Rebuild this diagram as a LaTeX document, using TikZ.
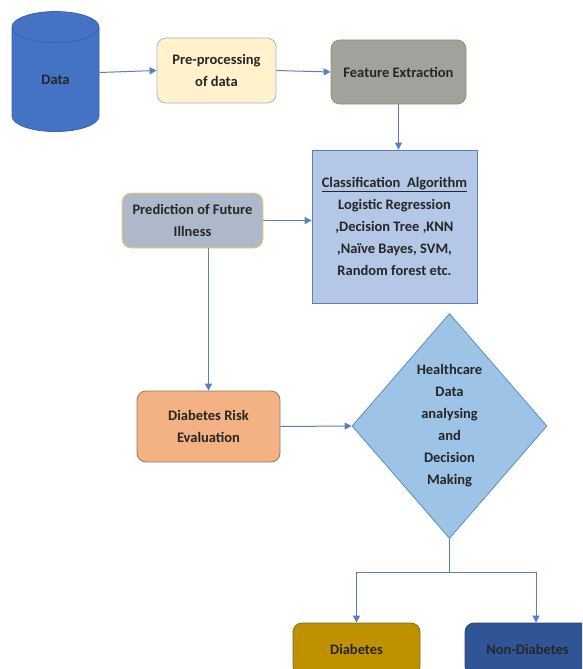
\documentclass[tikz,border=0pt]{standalone}
\usepackage{fontspec}
\setmainfont{Carlito}
\usepackage{xcolor}
\usepackage{tikz}
\usetikzlibrary{arrows.meta,shapes.geometric,calc}

\definecolor{linkblue}{HTML}{5B7EC0}
\definecolor{cylfill}{HTML}{4472C4}
\definecolor{cylline}{HTML}{3A62AD}
\definecolor{prepfill}{HTML}{FFF2CC}
\definecolor{prepline}{HTML}{A9B6C8}
\definecolor{featfill}{HTML}{A3A19B}
\definecolor{featline}{HTML}{7E9C6A}
\definecolor{classfill}{HTML}{B4C7E7}
\definecolor{classline}{HTML}{5A7DBA}
\definecolor{predfill}{HTML}{ADB9CA}
\definecolor{predline}{HTML}{F2D560}
\definecolor{riskfill}{HTML}{F4B183}
\definecolor{riskline}{HTML}{8A7A70}
\definecolor{diamfill}{HTML}{9DC3E6}
\definecolor{diamline}{HTML}{5E8CC2}
\definecolor{diabfill}{HTML}{BF9000}
\definecolor{diabline}{HTML}{7F6A20}
\definecolor{nondfill}{HTML}{2F5597}
\definecolor{nondline}{HTML}{24427A}

\begin{document}
\begin{tikzpicture}[
  x=1pt, y=-1pt,
  box/.style={draw, line width=0.8pt, rounded corners=9pt, align=center,
    inner sep=0pt, text=black!85,
    font=\fontsize{14.5}{22}\selectfont\bfseries},
  link/.style={draw=linkblue, line width=1pt,
    -{Triangle[length=7pt,width=7pt]}}
]

\useasboundingbox (0,0) rectangle (582,669);
\clip (0,0) rectangle (582,669);

% Top row
\node[cylinder, shape border rotate=90, aspect=1.1, draw=cylline,
  line width=0.8pt, fill=cylfill, minimum width=87pt, minimum height=120pt,
  inner sep=0pt, text=black!85,
  font=\fontsize{14.5}{22}\selectfont\bfseries] (data) at (55.5,79.5)
  {\raisebox{-5.5pt}[0pt][0pt]{Data}};
\node[box, fill=prepfill, draw=prepline, minimum width=119pt,
  minimum height=65pt] (prep) at (216.5,70.5) {Pre-processing\\of data};
\node[box, fill=featfill, draw=featline, minimum width=135pt,
  minimum height=64pt] (feat) at (398.5,72) {Feature Extraction};

% Middle part
\node[box, rounded corners=0pt, fill=classfill, draw=classline,
  minimum width=165pt, minimum height=153pt] (class) at (394.5,226.5)
  {\underline{Classification~~Algorithm}\\Logistic Regression\\
   ,Decision Tree ,KNN\\,Naïve Bayes, SVM,\\Random forest etc.};
\node[box, fill=predfill, draw=predline, minimum width=141pt,
  minimum height=55pt] (pred) at (192.5,220.5)
  {Prediction of Future\\Illness};
\node[box, fill=riskfill, draw=riskline, minimum width=143pt,
  minimum height=71pt] (risk) at (208.5,426.5)
  {Diabetes Risk\\Evaluation};
\node[box, diamond, rounded corners=0pt, fill=diamfill, draw=diamline,
  minimum width=195pt, minimum height=225pt] (diam) at (449.5,426)
  {Healthcare\\Data\\analysing\\and\\Decision\\Making};

% Outcomes
\node[box, fill=diabfill, draw=diabline, minimum width=127pt,
  minimum height=52pt] (diab) at (356.5,649) {Diabetes};
\node[box, fill=nondfill, draw=nondline, minimum width=125pt,
  minimum height=52pt] (nond) at (527.5,649) {Non-Diabetes};

% Connectors
\draw[link] ([yshift=7pt]data.east) -- (prep.west);
\draw[link] (prep.east) -- (feat.west);
\draw[link] (feat.south) -- (feat.south |- class.north);
\draw[link] (pred.east) -- (pred.east -| class.west);
\draw[link] (risk.north |- pred.south) -- (risk.north);
\draw[link] (risk.east) -- (diam.west);
\coordinate (split) at ($(diam.south)+(0,34)$);
\coordinate (nondin) at ([xshift=8.5pt]nond.north);
\draw[link] (diam.south) -- (split) -| (diab.north);
\draw[link] (split) -| (nondin);

\end{tikzpicture}
\end{document}
